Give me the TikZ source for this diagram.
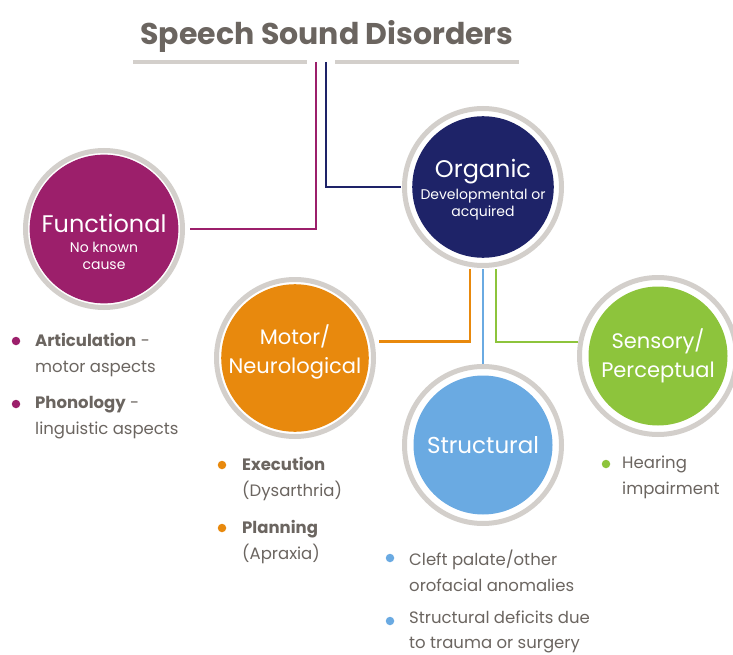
\documentclass[tikz,border=0pt]{standalone}
\usepackage{fontspec}
\setmainfont{Poppins}
\usetikzlibrary{calc}

\definecolor{funcpurple}{HTML}{9C1F6B}
\definecolor{orgnavy}{HTML}{1E2368}
\definecolor{motororange}{HTML}{E8890D}
\definecolor{structblue}{HTML}{6AAAE2}
\definecolor{sensgreen}{HTML}{8DC43C}
\definecolor{ringgray}{HTML}{D3CFCB}
\definecolor{textgray}{HTML}{6B6560}

\newcommand\disktitle[1]{{\fontsize{24}{28}\selectfont #1}}

\begin{document}
\begin{tikzpicture}[x=1pt, y=-1pt,
  disk/.style={circle, minimum size=139pt, inner sep=0pt, outer sep=11.5pt,
    fill=#1, text=white, align=center},
  small/.style={font=\fontsize{14}{17}\selectfont},
  large/.style={font=\fontsize{21}{29}\selectfont},
  ringline/.style={draw=ringgray, line width=5pt},
  link/.style={line width=2.5pt, draw=#1},
  dot/.style={circle, fill=#1, inner sep=0pt, minimum size=8.5pt},
  item/.style={anchor=north west, align=left, text=textgray, inner sep=0pt,
    font=\fontsize{16.5}{26}\selectfont}
]
\useasboundingbox (0,0) rectangle (733,655);

% title and rule
\node[anchor=base, text=textgray, font=\fontsize{30}{34}\selectfont\bfseries] (title) at (327,45) {Speech Sound Disorders};
\coordinate (ruleA) at (133,62);
\coordinate (ruleB) at (307,62);
\coordinate (ruleC) at (335,62);
\coordinate (ruleD) at (519,62);
\draw[ringgray, line width=4pt] (ruleA) -- (ruleB) (ruleC) -- (ruleD);
\coordinate (funcstart) at (316,62);
\coordinate (orgstart) at (326,62);

% circles
\node[disk=orgnavy, small] (organic) at (483,187)
  {\disktitle{\rule{0pt}{24pt}Organic}\\[5pt]Developmental or\\acquired};
\node[disk=funcpurple, small] (functional) at (104,229)
  {\disktitle{\rule{0pt}{44pt}Functional}\\[3pt]No known\\cause};
\node[disk=motororange, large] (motor) at (295,358) {Motor/\\Neurological\rule[-17pt]{0pt}{1pt}};
\node[disk=structblue, large, font=\fontsize{23}{28}\selectfont] (structural) at (483,445) {Structural};
\node[disk=sensgreen, large] (sensory) at (658,356) {Sensory/\\Perceptual};
\foreach \n in {organic,functional,motor,structural,sensory}
  \draw[ringline] (\n.center) circle (78.5);

% connectors
\draw[link=funcpurple] (funcstart) |- (functional.east);
\draw[link=orgnavy] (orgstart) |- (organic.west);
\draw[link=motororange] ([xshift=-13pt]organic.south) |- (motor.11);
\draw[link=structblue] (organic.south) -- (structural.north);
\draw[link=sensgreen] ([xshift=13pt]organic.south) |- (sensory.170);

% functional list
\node[dot=funcpurple] (artdot) at (16,341) {};
\node[item] (arttext) at (35,333) {\textbf{Articulation} -\\motor aspects};
\node[dot=funcpurple] (phondot) at (16,404) {};
\node[item] (phontext) at (35,396) {\textbf{Phonology} -\\linguistic aspects};

% motor list
\node[dot=motororange] (execdot) at (222,465) {};
\node[item] (exectext) at (242,457) {\textbf{Execution}\\(Dysarthria)};
\node[dot=motororange] (plandot) at (222,528) {};
\node[item] (plantext) at (242,520) {\textbf{Planning}\\(Apraxia)};

% structural list
\node[dot=structblue] (cleftdot) at (390,558) {};
\node[item] (clefttext) at (409,550) {Cleft palate/other\\orofacial anomalies};
\node[dot=structblue] (defdot) at (390,621) {};
\node[item, font=\fontsize{16.5}{25}\selectfont] (deftext) at (409,611) {Structural deficits due\\to trauma or surgery};

% sensory list
\node[dot=sensgreen] (heardot) at (606,464) {};
\node[item] (heartext) at (622,456) {Hearing\\impairment};
\end{tikzpicture}
\end{document}
